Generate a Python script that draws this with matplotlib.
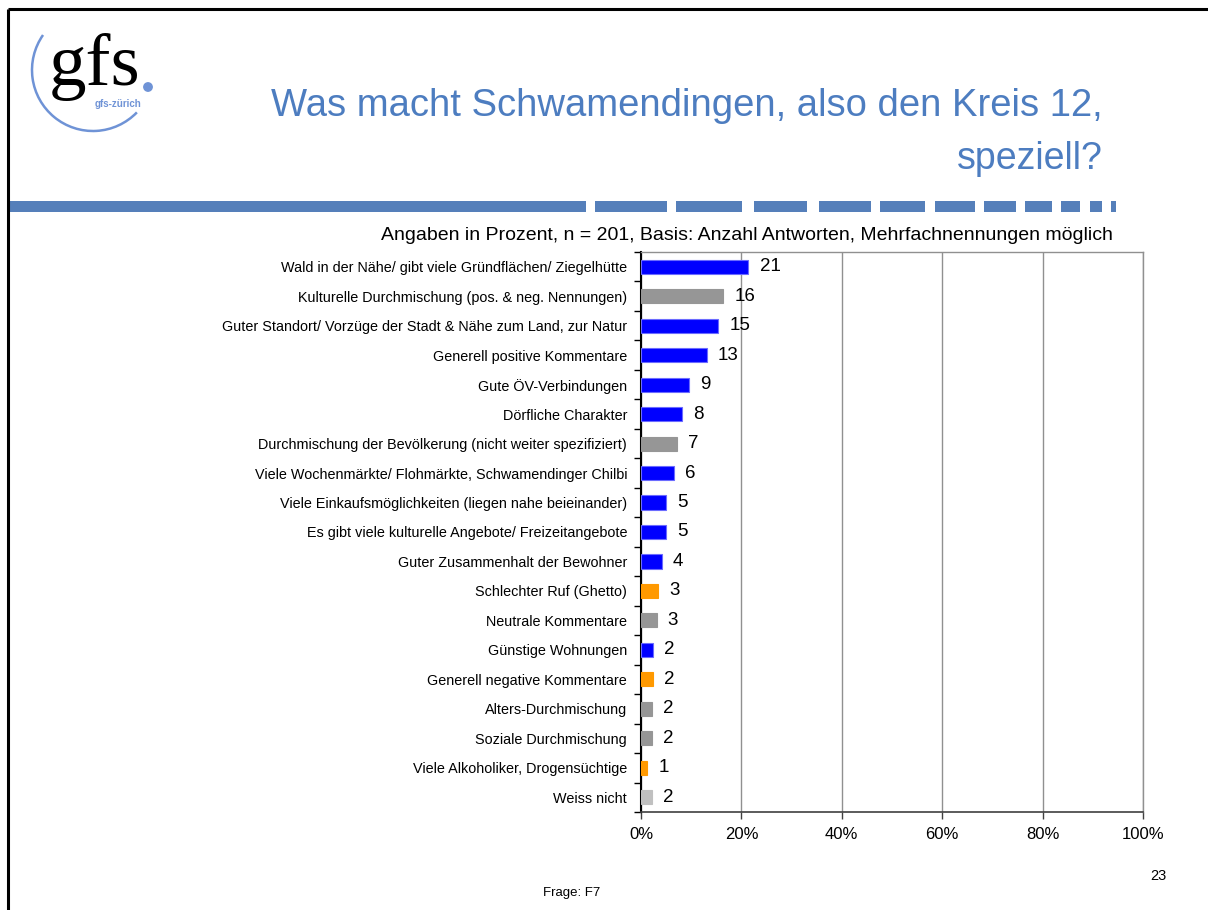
import numpy as np
import matplotlib
matplotlib.use("Agg")
import matplotlib.pyplot as plt
from matplotlib.patches import Arc, Circle, Rectangle

plt.rcParams['font.family'] = ['Liberation Sans', 'DejaVu Sans']

# ---------------- data ----------------
categories = [
    "Wald in der Nähe/ gibt viele Gründflächen/ Ziegelhütte",
    "Kulturelle Durchmischung (pos. & neg. Nennungen)",
    "Guter Standort/ Vorzüge der Stadt & Nähe zum Land, zur Natur",
    "Generell positive Kommentare",
    "Gute ÖV-Verbindungen",
    "Dörfliche Charakter",
    "Durchmischung der Bevölkerung (nicht weiter spezifiziert)",
    "Viele Wochenmärkte/ Flohmärkte, Schwamendinger Chilbi",
    "Viele Einkaufsmöglichkeiten (liegen nahe beieinander)",
    "Es gibt viele kulturelle Angebote/ Freizeitangebote",
    "Guter Zusammenhalt der Bewohner",
    "Schlechter Ruf (Ghetto)",
    "Neutrale Kommentare",
    "Günstige Wohnungen",
    "Generell negative Kommentare",
    "Alters-Durchmischung",
    "Soziale Durchmischung",
    "Viele Alkoholiker, Drogensüchtige",
    "Weiss nicht",
]
values = [21.4, 16.4, 15.4, 13.1, 9.5, 8.1, 7.2, 6.5, 5.0, 5.0, 4.1,
          3.4, 3.1, 2.4, 2.4, 2.2, 2.2, 1.2, 2.2]
value_labels = ["21", "16", "15", "13", "9", "8", "7", "6", "5", "5", "4",
                "3", "3", "2", "2", "2", "2", "1", "2"]
groups = ["pos", "mix", "pos", "pos", "pos", "pos", "mix", "pos", "pos", "pos", "pos",
          "neg", "mix", "pos", "neg", "mix", "mix", "neg", "dk"]
group_colors = {"pos": "#0000FF", "mix": "#969696", "neg": "#FF9900", "dk": "#C0C0C0"}
x_ticks = [0, 20, 40, 60, 80, 100]
x_ticklabels = ["0%", "20%", "40%", "60%", "80%", "100%"]

title_line1 = "Was macht Schwamendingen, also den Kreis 12,"
title_line2 = "speziell?"
subtitle = "Angaben in Prozent, n = 201, Basis: Anzahl Antworten, Mehrfachnennungen möglich"
footer = "Frage: F7"
page_no = "23"

# ---------------- figure ----------------
W, H = 1208, 910
fig = plt.figure(figsize=(W / 100, H / 100), dpi=100)
fig.patch.set_facecolor("white")

# overlay in pixel coordinates for decorations
ov = fig.add_axes([0, 0, 1, 1], zorder=0)
ov.set_xlim(0, W)
ov.set_ylim(H, 0)
ov.axis("off")

# slide border (top & left)
ov.plot([8, W], [9, 9], color="black", lw=2.2, solid_capstyle="butt")
ov.plot([8, 8], [9, H], color="black", lw=2.2, solid_capstyle="butt")

# logo
logo_blue = "#6F93D6"
ov.add_patch(Arc((93, 70), 122, 122, angle=0, theta1=-316, theta2=-145,
                 color=logo_blue, lw=1.8))
ov.text(95, 67, "gfs", family="Liberation Serif", fontsize=54, color="black",
        ha="center", va="center")
ov.add_patch(Circle((148, 87), 4.2, color=logo_blue))
ov.text(118, 104, "gfs-zürich", fontsize=7, color=logo_blue, ha="center",
        va="center", fontweight="bold")

# title
title_color = "#4D7DC0"
ov.text(1103, 106, title_line1, fontsize=27.5, color=title_color, ha="right", va="center")
ov.text(1103, 159, title_line2, fontsize=27, color=title_color, ha="right", va="center")

# dashed separator
dash_color = "#557FBA"
segments = [(10, 586), (595, 667), (676, 742), (754, 807), (819, 871), (880, 925),
            (935, 975), (984, 1016), (1025, 1052), (1061, 1080), (1090, 1102), (1111, 1116)]
for x0, x1 in segments:
    ov.add_patch(Rectangle((x0, 201), x1 - x0, 11, color=dash_color, lw=0))

# subtitle, footer, page number
ov.text(1113, 236, subtitle, fontsize=14, color="black", ha="right", va="center")
ov.text(572, 893, footer, fontsize=9.5, color="black", ha="center", va="center")
ov.text(1158, 876, page_no, fontsize=10.5, color="black", ha="center", va="center")

# ---------------- chart ----------------
ax = fig.add_axes([641 / W, 1 - 812 / H, (1143 - 641) / W, (812 - 252) / H], zorder=2)
ax.patch.set_alpha(0)
n = len(categories)
y = np.arange(n)
colors = [group_colors[g] for g in groups]
edges = ["#6B6BFF" if g == "pos" else c for g, c in zip(groups, colors)]
bars = ax.barh(y, values, height=0.48, color=colors, edgecolor=edges, linewidth=0.8, zorder=3)
ax.bar_label(bars, labels=value_labels, padding=8, fontsize=13.5, color="black")

ax.set_xlim(0, 100)
ax.set_ylim(n - 0.5, -0.5)
ax.set_xticks(x_ticks)
ax.set_xticklabels(x_ticklabels, fontsize=12)
ax.set_yticks(y)
ax.set_yticklabels(categories, fontsize=10.4)
ax.tick_params(axis="y", which="major", length=0, pad=10)
ax.set_yticks(np.arange(-0.5, n, 1), minor=True)
ax.tick_params(axis="y", which="minor", length=5, width=1, color="black", direction="out")
ax.tick_params(axis="x", length=5, width=1, color="#404040", pad=6)
ax.xaxis.grid(True, color="#909090", lw=1, zorder=0)
ax.set_axisbelow(True)
for side in ["top", "right"]:
    ax.spines[side].set_color("#909090")
    ax.spines[side].set_linewidth(1)
ax.spines["left"].set_color("black")
ax.spines["left"].set_linewidth(1.5)
ax.spines["bottom"].set_color("#404040")
ax.spines["bottom"].set_linewidth(1.2)

fig.savefig("out.png", dpi=100, facecolor="white")
